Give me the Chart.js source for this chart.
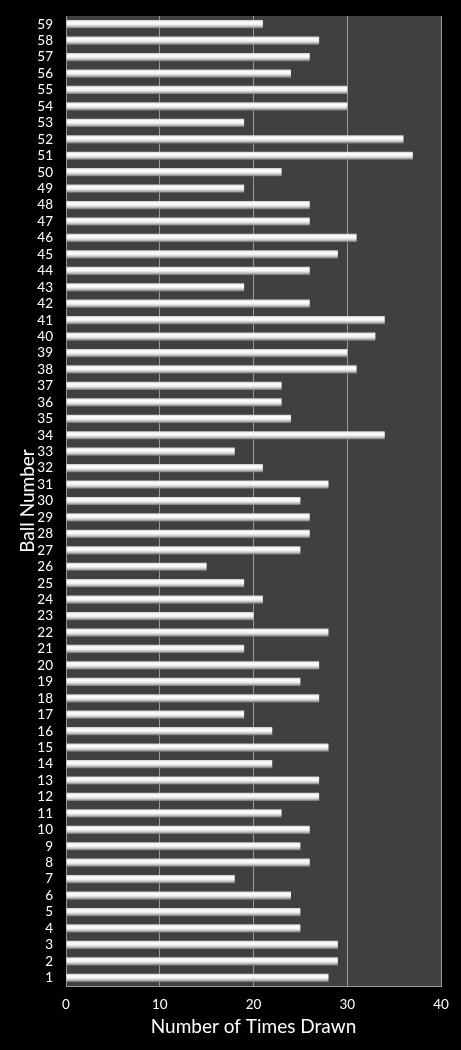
<!DOCTYPE html>
<html>
<head>
<meta charset="utf-8">
<script src="https://cdn.jsdelivr.net/npm/chart.js@4/dist/chart.umd.min.js"></script>
<style>
  html, body { margin: 0; padding: 0; background: #000; }
  #wrap { width: 461px; height: 1050px; }
</style>
</head>
<body>
<div id="wrap"><canvas id="balls"></canvas></div>
<script>
/////////////////////////////////////////////////////////////
// DATA

const ballNumbers = [
  "1", "2", "3", "4", "5", "6", "7", "8", "9", "10",
  "11", "12", "13", "14", "15", "16", "17", "18", "19", "20",
  "21", "22", "23", "24", "25", "26", "27", "28", "29", "30",
  "31", "32", "33", "34", "35", "36", "37", "38", "39", "40",
  "41", "42", "43", "44", "45", "46", "47", "48", "49", "50",
  "51", "52", "53", "54", "55", "56", "57", "58", "59",
];
const timesDrawn = [
  28, 29, 29, 25, 25, 24, 18, 26, 25, 26,
  23, 27, 27, 22, 28, 22, 19, 27, 25, 27,
  19, 28, 20, 21, 19, 15, 25, 26, 26, 25,
  28, 21, 18, 34, 24, 23, 23, 31, 30, 33,
  34, 26, 19, 26, 29, 31, 26, 26, 19, 23,
  37, 36, 19, 30, 30, 24, 26, 27, 21,
];
const xTicks = [0, 10, 20, 30, 40];

/////////////////////////////////////////////////////////////
// HELPERS

// plot area background
const plotBackground = {
  id: "plotBackground",
  beforeDraw(chart) {
    const { ctx, chartArea: { left, top, width, height } } = chart;
    ctx.save();
    ctx.fillStyle = "#404040";
    ctx.fillRect(left, top, width, height);
    ctx.restore();
  },
};

// shiny white bars, gradient follows each bar
const barFill = function (context) {
  const chart = context.chart;
  const yScale = chart.scales.y;
  if (!chart.chartArea || !yScale || context.dataIndex === undefined) return "#e0e0e0";
  const c = yScale.getPixelForValue(context.dataIndex);
  const h = 8;
  const g = chart.ctx.createLinearGradient(0, c - h / 2, 0, c + h / 2);
  g.addColorStop(0, "#d0d0d0");
  g.addColorStop(0.25, "#ffffff");
  g.addColorStop(0.55, "#f0f0f0");
  g.addColorStop(0.8, "#b8b8b8");
  g.addColorStop(1, "#767676");
  return g;
};

/////////////////////////////////////////////////////////////
// CHART

const fontFamily = "Lato, 'Open Sans', sans-serif";

const chart_config = {
  type: "bar",
  data: {
    labels: ballNumbers,
    datasets: [
      {
        data: timesDrawn,
        backgroundColor: barFill,
        borderWidth: 0,
        barPercentage: 0.5,
        categoryPercentage: 1,
      },
    ],
  },
  options: {
    indexAxis: "y",
    responsive: true,
    maintainAspectRatio: false,
    animation: false,
    layout: {
      padding: { top: 16, right: 20, left: 0, bottom: 0 },
    },
    scales: {
      x: {
        min: 0,
        max: 40,
        afterBuildTicks(axis) {
          axis.ticks = xTicks.map((v) => ({ value: v }));
        },
        afterFit(axis) {
          axis.height = 64;
        },
        grid: {
          color: "#9a9a9a",
          lineWidth: 1,
          drawTicks: false,
        },
        border: { color: "#9a9a9a", width: 1 },
        ticks: {
          color: "#ffffff",
          padding: 11,
          font: { family: fontFamily, size: 13.5 },
        },
        title: {
          display: true,
          text: "Number of Times Drawn",
          color: "#ffffff",
          padding: { top: 4, bottom: 12 },
          font: { family: fontFamily, size: 19 },
        },
      },
      y: {
        reverse: true,
        afterFit(axis) {
          axis.width = 66;
        },
        // invisible tick marks keep the labels off the axis
        // without tick padding growing the top of the chart
        grid: {
          display: true,
          drawOnChartArea: false,
          drawTicks: true,
          tickLength: 13,
          color: "rgba(0,0,0,0)",
        },
        border: { color: "#9a9a9a", width: 1 },
        ticks: {
          color: "#ffffff",
          padding: 0,
          autoSkip: false,
          font: { family: fontFamily, size: 13.5 },
        },
        title: {
          display: true,
          text: "Ball Number",
          color: "#ffffff",
          padding: { top: 16, bottom: 0 },
          font: { family: fontFamily, size: 19 },
        },
      },
    },
    plugins: {
      legend: { display: false },
      tooltip: { enabled: false },
    },
  },
  plugins: [plotBackground],
};

const balls_ctx = document.querySelector("#balls").getContext("2d");
const ballsChart = new Chart(balls_ctx, chart_config);
</script>
</body>
</html>
